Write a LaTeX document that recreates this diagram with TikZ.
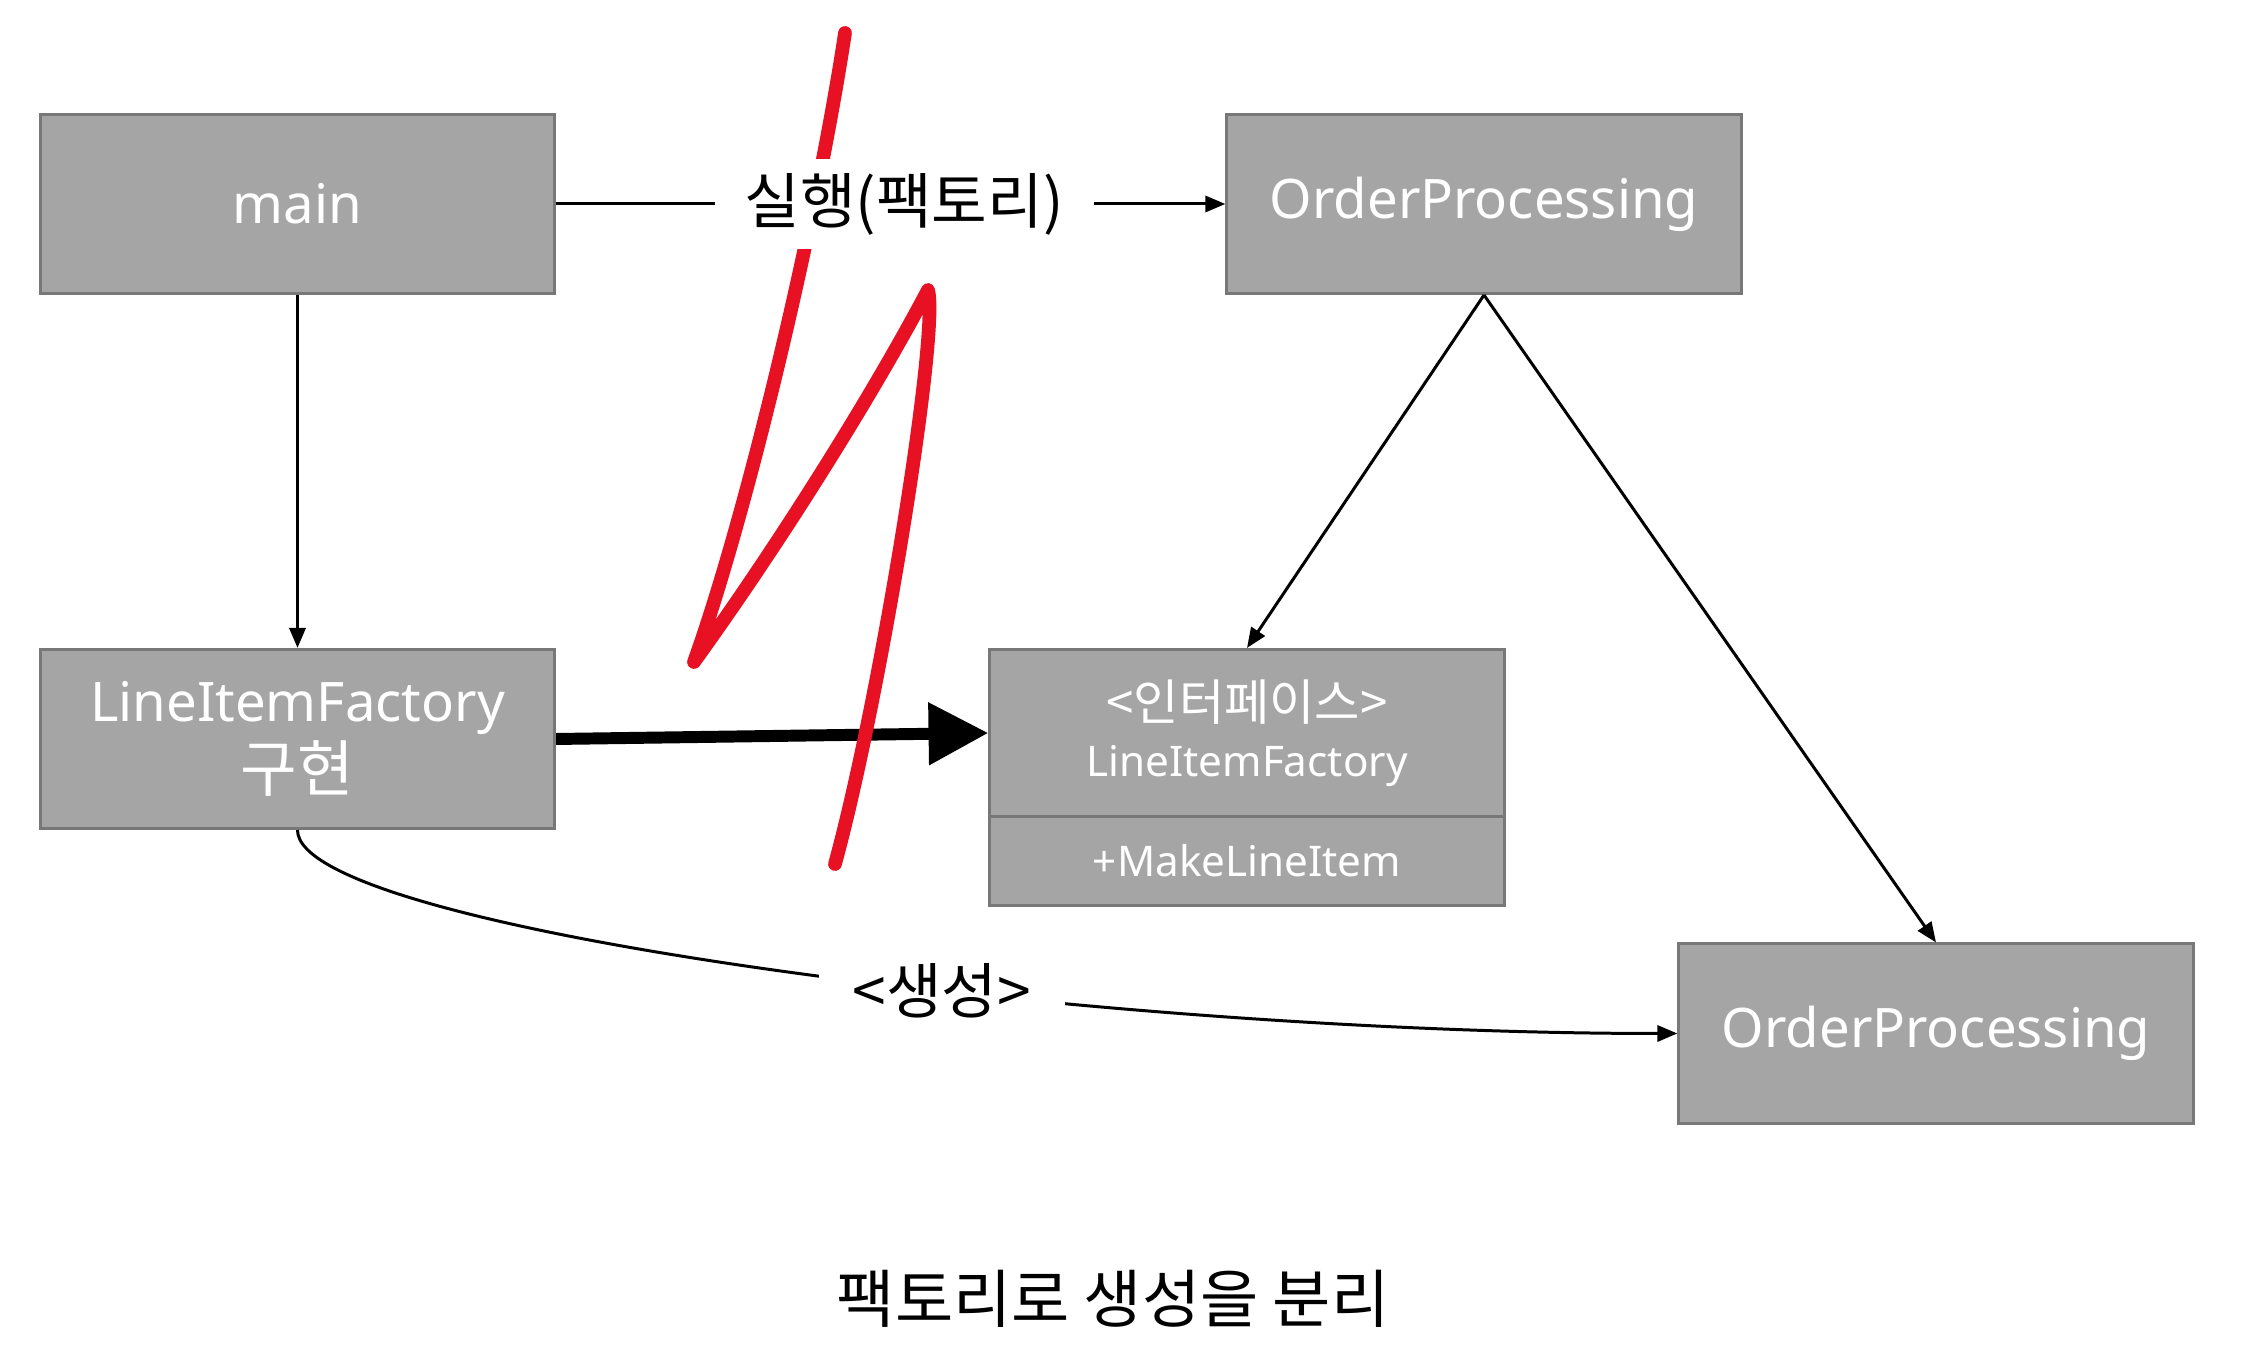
\documentclass[tikz,border=0pt]{standalone}
\usepackage{fontspec}
\setmainfont{Noto Sans}
\newfontfamily\kr{Noto Sans CJK KR}
\usetikzlibrary{arrows.meta,positioning}
\definecolor{boxgray}{HTML}{A5A5A5}
\definecolor{boxedge}{HTML}{787878}
\definecolor{pen}{HTML}{E81123}

\begin{document}
\begin{tikzpicture}[
			x=0.01cm, y=-0.01cm,
			block/.style={draw=boxedge, fill=boxgray, line width=0.85pt, text=white, inner sep=0pt, minimum width=5.14cm, minimum height=1.79cm, align=center, font=\fontsize{15.5}{19}\selectfont},
			line/.style={-{Triangle[length=5.7pt,width=4.6pt]}, line width=0.85pt},
			fat/.style={-{Triangle[length=17pt,width=17pt]}, line width=3.4pt},
			lbl/.style={fill=white, inner xsep=8.5pt, inner ysep=4pt, font=\kr\fontsize{17.2}{20}\selectfont},
			scribble/.style={draw=pen, line width=3.9pt, line cap=round, line join=round}
			]
			\useasboundingbox (0,0) rectangle (2247,1368);
			\node[block] (main) at (297.5,204) {main};
			\node[block] (order) at (1484,204) {OrderProcessing};
			\node[block] (lif) at (297.5,739) {LineItemFactory\\[1pt]{\kr\fontsize{17.5}{19}\selectfont 구현}};
			\node[block, minimum height=1.67cm, font=\fontsize{12}{16}\selectfont] (ifc) at (1247,733) {{\kr\fontsize{14}{16}\selectfont <인터페이스>}\\LineItemFactory};
			\node[block, minimum height=0.89cm, font=\fontsize{12}{16}\selectfont, below=-0.85pt of ifc] (ifcop) {+MakeLineItem};
			\node[block] (order2) at (1936,1033.5) {OrderProcessing};
			\node[font=\kr\fontsize{18}{22}\selectfont] (cap) at (1113,1299) {팩토리로 생성을 분리};
			
			\draw[line] (main) -- (lif);
			\draw[fat] (lif.east) -- (ifc.west);
			% red pen mark over the picture
			\draw[scribble] (845,33) .. controls (815,230) and (745,520) .. (694,662)
				.. controls (775,550) and (870,400) .. (928,290)
				.. controls (940,330) and (880,700) .. (835,864);
			\draw[line] (main) -- node[lbl, pos=0.52] {실행(팩토리)} (order);
			\draw[line] (order.south) -- (ifc.north);
			\draw[line] (order.south) -- (order2.north);
			\draw[line] (lif.south) .. controls +(0,100) and +(-578,0) .. node[lbl, pos=0.6, inner xsep=9.5pt] {<생성>} (order2.west);
		\end{tikzpicture}
\end{document}
